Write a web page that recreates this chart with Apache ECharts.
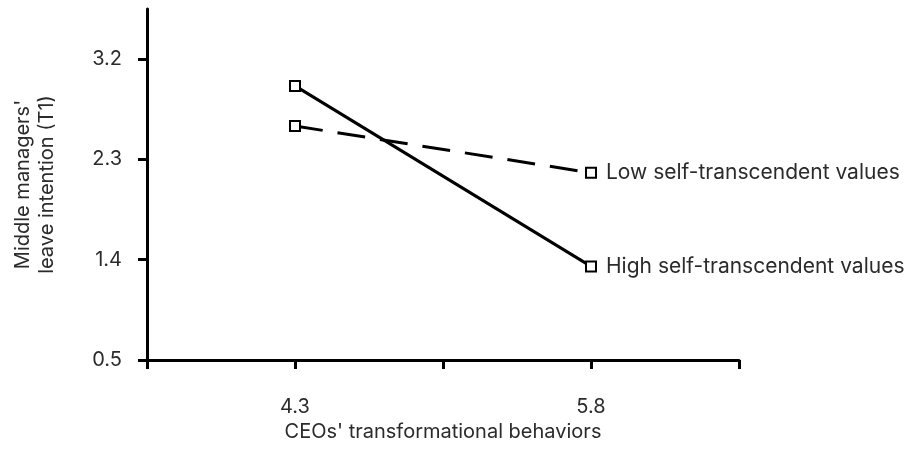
<!DOCTYPE html>
<html>
<head>
<meta charset="utf-8">
<script src="https://cdn.jsdelivr.net/npm/echarts@6/dist/echarts.min.js"></script>
<style>
  html, body { margin: 0; padding: 0; background: #fff; }
  #main { width: 910px; height: 456px; }
</style>
</head>
<body>
<div id="main"></div>
<script>
// predictor levels (x) and predicted leave intention per moderator level
const xValues = [4.3, 5.8]
const lowValues = [2.6, 2.18]
const highValues = [2.96, 1.34]
const xTicks = [3.55, 4.3, 5.05, 5.8, 6.55]
const xLabels = [4.3, 5.8]
const yTicks = [0.5, 1.4, 2.3, 3.2]

const font = 'Inter, Liberation Sans, sans-serif'
const textColor = '#2b2b2b'

function pairs (ys) {
  return xValues.map((x, i) => [x, ys[i]])
}

const chart = echarts.init(document.getElementById('main'))

const lineSeries = (name, values, dashed) => ({
  name: name,
  type: 'line',
  data: pairs(values),
  symbol: 'rect',
  symbolSize: 10,
  itemStyle: { color: '#fff', borderColor: '#000', borderWidth: 2 },
  lineStyle: { color: '#000', width: 3, type: dashed ? [28, 15] : 'solid' },
  endLabel: {
    show: true,
    formatter: '{a}',
    distance: 15,
    color: textColor,
    fontFamily: font,
    fontSize: 21
  },
  emphasis: { disabled: true },
  animation: false
})

chart.setOption({
  backgroundColor: '#fff',
  grid: { left: 147, right: 171, top: 9, bottom: 96, outerBoundsMode: 'none' },
  xAxis: {
    type: 'value',
    min: 3.55,
    max: 6.55,
    name: "CEOs' transformational behaviors",
    nameLocation: 'middle',
    nameGap: 58,
    nameTextStyle: { color: textColor, fontFamily: font, fontSize: 20 },
    axisLine: { show: true, onZero: false, lineStyle: { color: '#000', width: 3 } },
    axisTick: { show: true, length: 9, lineStyle: { color: '#000', width: 3 }, customValues: xTicks },
    axisLabel: { color: textColor, fontFamily: font, fontSize: 20, margin: 37, customValues: xLabels },
    splitLine: { show: false }
  },
  yAxis: {
    type: 'value',
    min: 0.5,
    max: 3.65,
    name: "Middle managers'\nleave intention (T1)",
    nameLocation: 'middle',
    nameGap: 88,
    nameTextStyle: { color: textColor, fontFamily: font, fontSize: 20, lineHeight: 24 },
    axisLine: { show: true, onZero: false, lineStyle: { color: '#000', width: 3 } },
    axisTick: { show: true, length: 9, lineStyle: { color: '#000', width: 3 }, customValues: yTicks },
    axisLabel: { color: textColor, fontFamily: font, fontSize: 20, margin: 25, customValues: yTicks },
    splitLine: { show: false }
  },
  series: [
    lineSeries('Low self-transcendent values', lowValues, true),
    lineSeries('High self-transcendent values', highValues, false)
  ]
})
</script>
</body>
</html>
